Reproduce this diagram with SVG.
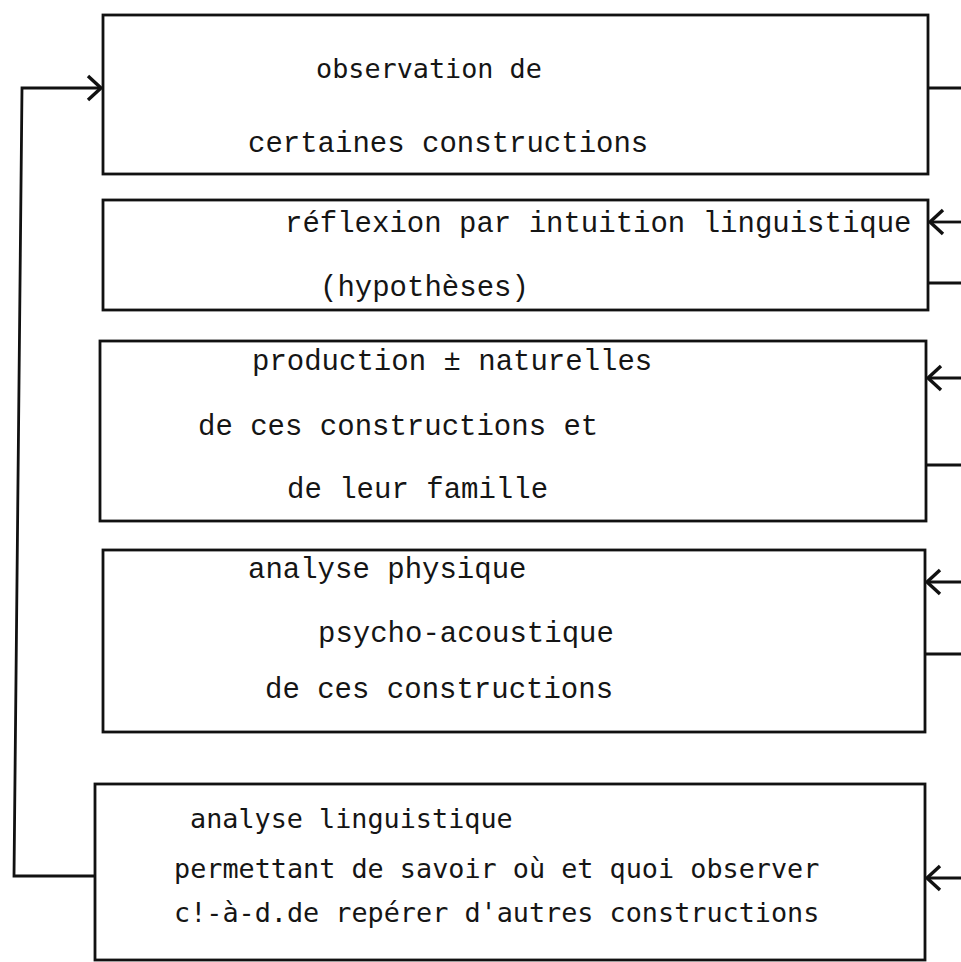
<svg xmlns="http://www.w3.org/2000/svg" width="961" height="962" viewBox="0 0 961 962">
<defs>
<style>
.box{fill:#fff;stroke:#111;stroke-width:2.8}
.ln{fill:none;stroke:#111;stroke-width:2.8}
.c{font-family:"Liberation Mono","Courier New",monospace;font-size:29px;fill:#151515}
.s{font-family:"DejaVu Sans Mono","Liberation Mono",monospace;font-size:26.8px;fill:#151515}
</style>
<marker id="ah" viewBox="-15 -14 18 28" markerWidth="18" markerHeight="28" refX="0" refY="0" orient="auto" markerUnits="userSpaceOnUse">
<path d="M -13 -12 L 0 0 L -13 12" fill="none" stroke="#111" stroke-width="3.4"/>
</marker>
</defs>
<rect width="961" height="962" fill="#fff"/>
<g id="connectors">
<polyline class="ln" points="95,876 14,876 22,88 101,88" marker-end="url(#ah)"/>
<line class="ln" x1="928" y1="88" x2="961" y2="88"/>
<line class="ln" x1="961" y1="222" x2="930" y2="222" marker-end="url(#ah)"/>
<line class="ln" x1="928" y1="283" x2="961" y2="283"/>
<line class="ln" x1="961" y1="378" x2="928" y2="378" marker-end="url(#ah)"/>
<line class="ln" x1="926" y1="465" x2="961" y2="465"/>
<line class="ln" x1="961" y1="582" x2="927" y2="582" marker-end="url(#ah)"/>
<line class="ln" x1="925" y1="654" x2="961" y2="654"/>
<line class="ln" x1="961" y1="878" x2="927" y2="878" marker-end="url(#ah)"/>
</g>
<g id="node1">
<rect class="box" x="103" y="15" width="825" height="159"/>
<text class="s" x="316" y="78">observation de</text>
<text class="c" x="248" y="152">certaines constructions</text>
</g>
<g id="node2">
<rect class="box" x="103" y="200" width="825" height="110"/>
<text class="c" x="285" y="232">réflexion par intuition linguistique</text>
<text class="c" x="320" y="296">(hypothèses)</text>
</g>
<g id="node3">
<rect class="box" x="100" y="341" width="826" height="180"/>
<text class="c" x="252" y="370">production ± naturelles</text>
<text class="c" x="198" y="435">de ces constructions et</text>
<text class="c" x="287" y="498">de leur famille</text>
</g>
<g id="node4">
<rect class="box" x="103" y="550" width="822" height="182"/>
<text class="c" x="248" y="578">analyse physique</text>
<text class="c" x="318" y="642">psycho-acoustique</text>
<text class="c" x="265" y="698">de ces constructions</text>
</g>
<g id="node5">
<rect class="box" x="95" y="784" width="830" height="176"/>
<text class="s" x="190" y="828">analyse linguistique</text>
<text class="s" x="174" y="878">permettant de savoir où et quoi observer</text>
<text class="s" x="174" y="922">c!-à-d.de repérer d'autres constructions</text>
</g>
</svg>
